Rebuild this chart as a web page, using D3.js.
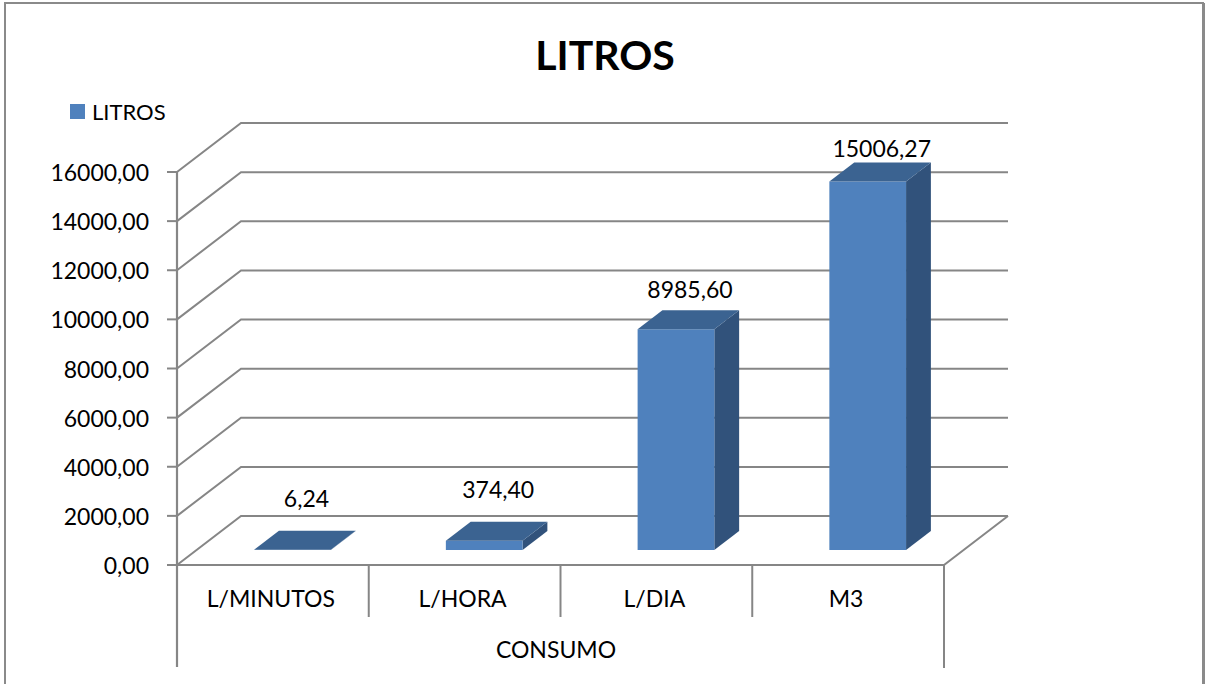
<!DOCTYPE html>
<html>
<head>
<meta charset="utf-8">
<script src="https://cdn.jsdelivr.net/npm/d3@7"></script>
<style>
  html, body { margin: 0; padding: 0; background: #fff; }
  svg { display: block; }
  text { font-family: Lato, "Open Sans", sans-serif; fill: #000; }
</style>
</head>
<body>
<svg id="chart" width="1208" height="684"></svg>
<script>
// Consumption data (litres)
const categories = ["L/MINUTOS", "L/HORA", "L/DIA", "M3"];
const values = [6.24, 374.40, 8985.60, 15006.27];
const valueLabels = ["6,24", "374,40", "8985,60", "15006,27"];
const yTicks = [0, 2000, 4000, 6000, 8000, 10000, 12000, 14000, 16000];
const seriesName = "LITROS";
const chartTitle = "LITROS";
const axisTitle = "CONSUMO";

(function () {
  const svg = d3.select("#chart");
  const H = 684;

  // plot geometry (front plane + depth vector of the 3D box)
  const plotLeft = 177, plotRight = 944, plotBottom = 565, plotTop = 172;
  const depthX = 64, depthY = -49;
  const barDepthStart = 0.306, barDepthEnd = 0.694;

  const y = d3.scaleLinear().domain([0, 16000]).range([plotBottom, plotTop]);
  const x = d3.scaleBand().domain(categories).range([plotLeft, plotRight])
    .paddingInner(0.6).paddingOuter(0.3);
  const xCat = d3.scaleBand().domain(categories).range([plotLeft, plotRight]);

  const gridColor = "#868686";
  const labelSize = "23px";

  // outer frame
  svg.append("rect").attr("x", 5).attr("y", 3).attr("width", 1198).attr("height", 700)
    .attr("fill", "#fff").attr("stroke", "#8a8a8a").attr("stroke-width", 2);
  svg.append("line").attr("x1", 1203.5).attr("x2", 1203.5).attr("y1", 3).attr("y2", H)
    .attr("stroke", "#8a8a8a").attr("stroke-width", 3);

  // title
  svg.append("text").attr("x", 605).attr("y", 70).attr("text-anchor", "middle")
    .style("font-size", "41px").style("font-weight", "bold").text(chartTitle);

  // legend
  svg.append("rect").attr("x", 70).attr("y", 104).attr("width", 15).attr("height", 15)
    .attr("fill", "#4F81BD");
  svg.append("text").attr("x", 92).attr("y", 119.5).style("font-size", "22px").text(seriesName);

  // projection helper: value-space point at depth t (0 = front, 1 = back)
  const P = (px, v, t) => [px + depthX * t, y(v) + depthY * t];
  const poly = pts => pts.map(p => p.join(",")).join(" ");

  const g = svg.append("g");

  // wall gridlines: front-left corner -> back-left corner -> back-right edge
  yTicks.forEach(v => {
    g.append("polyline")
      .attr("points", poly([P(plotLeft, v, 0), P(plotLeft, v, 1), P(plotRight, v, 1)]))
      .attr("fill", "none").attr("stroke", gridColor).attr("stroke-width", 2);
  });

  // floor outline
  g.append("polyline")
    .attr("points", poly([P(plotLeft, 0, 0), P(plotRight, 0, 0), P(plotRight, 0, 1)]))
    .attr("fill", "none").attr("stroke", gridColor).attr("stroke-width", 2);

  // vertical value axis and tick marks
  g.append("line").attr("x1", plotLeft).attr("x2", plotLeft).attr("y1", y(16000)).attr("y2", 667)
    .attr("stroke", gridColor).attr("stroke-width", 2.2);
  yTicks.forEach(v => {
    g.append("line").attr("x1", plotLeft - 10).attr("x2", plotLeft).attr("y1", y(v)).attr("y2", y(v))
      .attr("stroke", gridColor).attr("stroke-width", 2);
    g.append("text").attr("x", 149).attr("y", y(v) + 9).attr("text-anchor", "end")
      .style("font-size", labelSize).text(d3.format(".2f")(v).replace(".", ","));
  });

  // category dividers and labels below the floor
  categories.forEach((c, i) => {
    const xl = xCat(c);
    if (i > 0) {
      g.append("line").attr("x1", xl).attr("x2", xl).attr("y1", plotBottom).attr("y2", 617)
        .attr("stroke", gridColor).attr("stroke-width", 2);
    }
    g.append("text").attr("x", xl + xCat.bandwidth() / 2 - 2).attr("y", 607)
      .attr("text-anchor", "middle").style("font-size", labelSize).text(c);
  });
  g.append("line").attr("x1", plotRight).attr("x2", plotRight).attr("y1", plotBottom).attr("y2", 668)
    .attr("stroke", gridColor).attr("stroke-width", 2);
  svg.append("text").attr("x", 556).attr("y", 658).attr("text-anchor", "middle")
    .style("font-size", labelSize).text(axisTitle);

  // 3D bars
  const bars = svg.append("g");
  categories.forEach((c, i) => {
    const v = values[i];
    const x0 = x(c), x1 = x(c) + x.bandwidth();
    const t0 = barDepthStart, t1 = barDepthEnd;
    // right side
    bars.append("polygon").attr("points", poly([P(x1, 0, t0), P(x1, 0, t1), P(x1, v, t1), P(x1, v, t0)]))
      .attr("fill", "#31527B");
    // front face
    bars.append("polygon").attr("points", poly([P(x0, 0, t0), P(x1, 0, t0), P(x1, v, t0), P(x0, v, t0)]))
      .attr("fill", "#4F81BD");
    // top
    bars.append("polygon").attr("points", poly([P(x0, v, t0), P(x1, v, t0), P(x1, v, t1), P(x0, v, t1)]))
      .attr("fill", "#3B6391");
  });

  // value labels
  const labelY = d3.scaleLinear().domain([0, 16000]).range([507, 134]);
  categories.forEach((c, i) => {
    const cx = x(c) + x.bandwidth() / 2 + depthX * barDepthStart + 14;
    svg.append("text").attr("x", cx).attr("y", labelY(values[i]))
      .attr("text-anchor", "middle").style("font-size", labelSize).text(valueLabels[i]);
  });
})();
</script>
</body>
</html>
